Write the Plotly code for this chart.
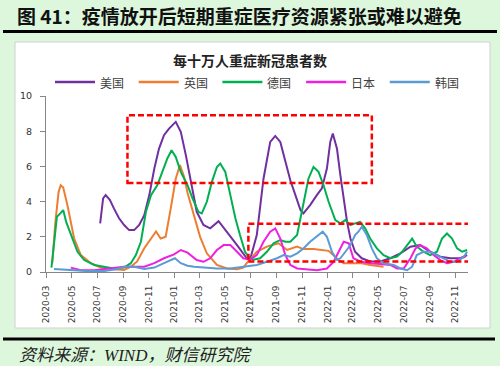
import plotly.graph_objects as go

# ---------------- data ----------------
us_dates = ["2020-07-08","2020-07-15","2020-07-21","2020-07-31","2020-08-10","2020-08-22","2020-09-03","2020-09-15","2020-09-27","2020-10-09","2020-10-21","2020-11-02","2020-11-14","2020-11-25","2020-12-07","2020-12-19","2021-01-04","2021-01-16","2021-01-28","2021-02-09","2021-02-23","2021-03-11","2021-03-27","2021-04-16","2021-05-06","2021-05-30","2021-06-22","2021-06-30","2021-07-16","2021-08-01","2021-08-17","2021-08-29","2021-09-10","2021-09-22","2021-10-04","2021-10-16","2021-10-28","2021-11-04","2021-11-20","2021-12-06","2021-12-18","2021-12-30","2022-01-07","2022-01-13","2022-01-23","2022-01-31","2022-02-08","2022-02-16","2022-02-24","2022-03-07","2022-03-23","2022-04-12","2022-05-06","2022-05-30","2022-06-23","2022-07-17","2022-08-09","2022-09-02","2022-09-26","2022-10-20","2022-11-13","2022-11-29"]
us_vals = [2.76,4.18,4.37,4.1,3.6,3.05,2.67,2.38,2.38,2.67,3.23,4.37,5.88,7.0,7.77,8.15,8.53,7.96,6.64,5.12,3.42,2.67,2.48,2.89,2.29,1.53,0.78,0.7,2.1,5.3,7.39,7.73,7.39,6.26,5.2,4.37,3.52,3.33,3.8,4.37,4.75,5.88,7.39,7.87,7.0,5.5,4.18,2.85,1.9,1.15,0.78,0.6,0.6,0.78,1.06,1.44,1.53,1.15,0.87,0.78,0.78,0.96]

uk_dates = ["2020-03-16","2020-03-23","2020-03-31","2020-04-05","2020-04-11","2020-04-18","2020-04-21","2020-05-07","2020-05-23","2020-06-16","2020-07-09","2020-08-02","2020-09-03","2020-09-19","2020-10-04","2020-10-21","2020-11-06","2020-11-18","2020-11-29","2020-12-11","2020-12-23","2021-01-04","2021-01-14","2021-01-24","2021-02-01","2021-02-15","2021-03-03","2021-03-19","2021-04-12","2021-05-06","2021-05-30","2021-06-14","2021-06-22","2021-07-16","2021-08-09","2021-09-06","2021-09-26","2021-10-20","2021-11-04","2021-11-28","2021-12-22","2022-01-03","2022-01-27","2022-02-08","2022-03-07","2022-03-23","2022-04-12","2022-05-14"]
uk_vals = [0.5,2.76,4.55,4.93,4.8,4.18,3.8,1.9,0.96,0.5,0.25,0.17,0.12,0.3,0.6,1.35,1.9,2.3,1.9,2.0,3.6,5.3,6.07,5.4,4.5,3.3,2.0,1.06,0.4,0.2,0.15,0.25,0.5,1.15,1.44,1.63,1.25,1.44,1.3,1.3,1.25,1.2,0.68,0.5,0.5,0.5,0.4,0.3]

de_dates = ["2020-03-14","2020-03-20","2020-03-27","2020-04-04","2020-04-11","2020-04-18","2020-05-03","2020-05-15","2020-05-31","2020-06-24","2020-07-17","2020-08-10","2020-09-03","2020-09-19","2020-10-01","2020-10-13","2020-10-25","2020-11-06","2020-11-21","2020-12-03","2020-12-15","2020-12-25","2021-01-04","2021-01-16","2021-02-01","2021-02-13","2021-02-27","2021-03-07","2021-03-19","2021-03-31","2021-04-12","2021-04-20","2021-05-02","2021-05-14","2021-05-26","2021-06-06","2021-06-18","2021-06-26","2021-07-08","2021-07-24","2021-08-09","2021-08-25","2021-09-10","2021-09-22","2021-10-04","2021-10-20","2021-11-04","2021-11-16","2021-11-28","2021-12-10","2021-12-22","2022-01-03","2022-01-19","2022-01-31","2022-02-12","2022-02-24","2022-03-07","2022-03-19","2022-03-31","2022-04-12","2022-04-28","2022-05-14","2022-05-30","2022-06-15","2022-06-27","2022-07-13","2022-07-21","2022-08-01","2022-08-17","2022-09-02","2022-09-18","2022-09-30","2022-10-12","2022-10-24","2022-11-05","2022-11-17","2022-11-29"]
de_vals = [0.25,1.53,3.14,3.33,3.52,2.85,1.9,1.15,0.68,0.4,0.3,0.2,0.25,0.5,0.96,1.72,3.42,4.37,4.93,5.69,6.45,6.92,6.54,5.69,4.93,4.18,3.42,3.33,3.99,5.12,5.97,6.16,5.69,4.37,3.05,2.1,1.15,0.87,0.7,0.78,1.15,1.63,1.82,1.72,1.72,2.1,3.8,5.3,5.97,5.69,4.93,3.99,2.95,2.76,2.95,2.67,2.76,2.85,2.48,1.9,1.34,0.96,0.78,0.87,1.15,1.63,1.9,1.44,1.15,0.96,1.15,1.9,2.19,1.9,1.34,1.15,1.25]

jp_dates = ["2020-04-29","2020-05-23","2020-06-24","2020-08-02","2020-09-03","2020-10-21","2020-11-14","2020-12-07","2020-12-31","2021-01-16","2021-02-01","2021-02-23","2021-03-11","2021-03-27","2021-04-12","2021-04-28","2021-05-14","2021-05-30","2021-06-14","2021-06-30","2021-07-16","2021-08-01","2021-08-17","2021-08-29","2021-09-10","2021-09-22","2021-10-04","2021-10-20","2021-11-12","2021-12-06","2021-12-30","2022-01-15","2022-01-27","2022-02-08","2022-02-20","2022-03-03","2022-03-19","2022-04-12","2022-05-06","2022-05-30","2022-06-15","2022-07-01","2022-07-17","2022-07-29","2022-08-09","2022-08-25","2022-09-10","2022-09-26","2022-10-12","2022-10-28","2022-11-13","2022-11-25"]
jp_vals = [0.25,0.1,0.1,0.2,0.3,0.3,0.5,0.78,1.0,1.25,1.1,0.68,0.58,0.78,1.25,1.53,1.53,1.15,0.78,0.7,0.96,1.72,2.29,2.48,1.9,0.96,0.4,0.2,0.15,0.1,0.2,0.58,1.15,1.72,1.63,0.78,0.6,0.5,0.45,0.4,0.2,0.2,0.78,1.34,1.53,1.34,0.96,0.68,0.5,0.58,0.78,0.87]

kr_dates = ["2020-03-20","2020-04-29","2020-06-08","2020-07-17","2020-08-18","2020-09-03","2020-09-27","2020-10-21","2020-11-14","2020-12-07","2020-12-23","2021-01-02","2021-01-16","2021-02-01","2021-02-17","2021-03-11","2021-04-12","2021-05-14","2021-06-14","2021-07-16","2021-08-09","2021-09-02","2021-09-18","2021-10-04","2021-10-20","2021-11-04","2021-11-20","2021-12-06","2021-12-20","2021-12-30","2022-01-11","2022-01-23","2022-01-31","2022-02-12","2022-02-24","2022-03-07","2022-03-15","2022-03-23","2022-04-04","2022-04-16","2022-04-28","2022-05-14","2022-06-07","2022-06-23","2022-07-09","2022-07-21","2022-08-01","2022-08-17","2022-09-02","2022-09-18","2022-10-04","2022-10-20","2022-11-05","2022-11-21","2022-11-29"]
kr_vals = [0.17,0.1,0.05,0.05,0.17,0.3,0.3,0.17,0.25,0.5,0.68,0.78,0.5,0.36,0.3,0.25,0.2,0.2,0.3,0.4,0.58,0.78,0.96,0.87,1.06,1.34,1.72,2.0,2.29,2.0,1.15,0.68,0.78,1.15,1.53,2.1,2.29,2.57,2.1,1.34,0.78,0.5,0.4,0.2,0.1,0.3,0.96,1.15,1.15,0.96,0.78,0.58,0.58,0.87,1.15]

series_names = ["美国", "英国", "德国", "日本", "韩国"]
series_dates = [us_dates, uk_dates, de_dates, jp_dates, kr_dates]
series_vals = [us_vals, uk_vals, de_vals, jp_vals, kr_vals]
series_colors = ["#7030A0", "#ED7D31", "#00B050", "#F020E0", "#5B9BD5"]

# highlighted regions (date range, value range)
box_x0 = ["2020-09-11", "2021-06-26"]
box_x1 = ["2022-04-16", "2022-12-19"]
box_y0 = [5.05, 0.6]
box_y1 = [8.9, 2.74]

heading = "图 41：疫情放开后短期重症医疗资源紧张或难以避免"
chart_title = "每十万人重症新冠患者数"
source = "资料来源：WIND，财信研究院"

# ---------------- layout geometry ----------------
W, H = 500, 366
L, R, T, B = 46, 468, 96, 272   # plot area in px


def px(x):
    return (x - L) / (R - L)


def py(y):
    return (B - y) / (B - T)


fig = go.Figure()
for n, d, v, c in zip(series_names, series_dates, series_vals, series_colors):
    fig.add_trace(go.Scatter(x=d, y=v, name=n, mode="lines",
                             line=dict(color=c, width=2), showlegend=False))

shapes = [
    # white panel
    dict(type="rect", xref="paper", yref="paper", x0=px(15), x1=px(490), y0=py(328), y1=py(42),
         fillcolor="white", line=dict(color="#d0d0d0", width=1), layer="below"),
    # heading rule
    dict(type="line", xref="paper", yref="paper", x0=px(3), x1=px(497), y0=py(31.5), y1=py(31.5),
         line=dict(color="black", width=3)),
    # source rule
    dict(type="line", xref="paper", yref="paper", x0=px(3), x1=px(495), y0=py(339), y1=py(339),
         line=dict(color="black", width=3)),
]
for a0, a1, b0, b1 in zip(box_x0, box_x1, box_y0, box_y1):
    shapes.append(dict(type="rect", xref="x", yref="y", x0=a0, x1=a1, y0=b0, y1=b1,
                       line=dict(color="#FF0000", width=2.5, dash="6px,3px"),
                       fillcolor="rgba(0,0,0,0)", layer="above"))

annotations = [
    dict(text="<b>" + heading + "</b>", xref="paper", yref="paper", x=px(15), y=py(15),
         xanchor="left", yanchor="middle", showarrow=False,
         font=dict(family="Noto Sans CJK SC", size=19, color="#111111")),
    dict(text="<i>" + source + "</i>", xref="paper", yref="paper", x=px(17), y=py(355),
         xanchor="left", yanchor="middle", showarrow=False,
         font=dict(family="Liberation Serif, Noto Sans CJK SC", size=17, color="#222222")),
]

# custom legend row (line sample + label), drawn with the series colours / names
leg_start = 55
leg_step = 83.7
for i, (n, c) in enumerate(zip(series_names, series_colors)):
    x0 = leg_start + i * leg_step
    shapes.append(dict(type="line", xref="paper", yref="paper", x0=px(x0), x1=px(x0 + 40),
                       y0=py(82), y1=py(82), line=dict(color=c, width=2.5)))
    annotations.append(dict(text=n, xref="paper", yref="paper", x=px(x0 + 43), y=py(82),
                            xanchor="left", yanchor="middle", showarrow=False,
                            font=dict(family="Noto Sans CJK SC", size=12, color="#404040")))

fig.update_layout(
    width=W, height=H,
    margin=dict(l=L, r=W - R, t=T, b=H - B, pad=0),
    paper_bgcolor="#dcf7dc",
    plot_bgcolor="rgba(0,0,0,0)",
    title=dict(text="<b>" + chart_title + "</b>", x=0.5, xref="container", xanchor="center",
               y=1 - 61 / H, yanchor="middle",
               font=dict(family="Noto Sans CJK SC", size=14, color="#222222")),
    showlegend=False,
    shapes=shapes,
    annotations=annotations,
    xaxis=dict(type="date", range=["2020-03-01", "2022-12-01"], tick0="2020-03-01", dtick="M2",
               tickformat="%Y-%m", tickangle=-90, ticks="outside", ticklen=5, tickcolor="#868686",
               showline=True, linecolor="#868686", linewidth=1, showgrid=False, zeroline=False,
               automargin=False, ticklabelstandoff=4,
               tickfont=dict(family="DejaVu Sans", size=9, color="#333333")),
    yaxis=dict(range=[0, 10], dtick=2, ticks="outside", ticklen=5, tickcolor="#868686",
               showline=True, linecolor="#868686", linewidth=1, showgrid=False, zeroline=False,
               automargin=False, ticklabelstandoff=6,
               tickfont=dict(family="DejaVu Sans", size=9.5, color="#333333")),
)

fig.write_html("out.html", config={"displayModeBar": False},
               post_script="document.body.style.margin='0';document.body.style.padding='0';"
                           "document.body.style.overflow='hidden';")
